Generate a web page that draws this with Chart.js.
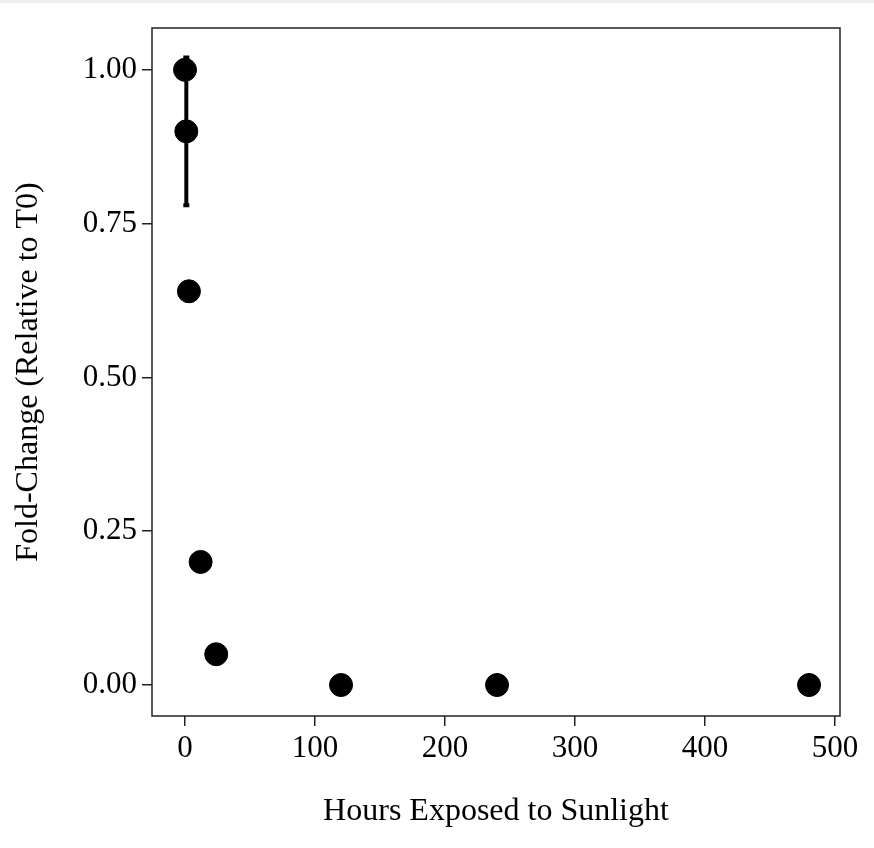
<!DOCTYPE html>
<html>
<head>
<meta charset="utf-8">
<script src="https://cdn.jsdelivr.net/npm/chart.js@4/dist/chart.umd.min.js"></script>
<style>
  html, body { margin: 0; padding: 0; background: #fff; }
  #strip { height: 3px; background: #efefef; }
  #wrap { width: 874px; height: 845px; }
</style>
</head>
<body>
<div id="strip"></div>
<div id="wrap"><canvas id="chart" width="874" height="845"></canvas></div>
<script>
// Sunlight exposure series
const hours = [0, 1, 3, 12, 24, 120, 240, 480];
const foldChange = [1.00, 0.90, 0.64, 0.20, 0.05, 0.00, 0.00, 0.00];
// error bar (only the 1 h point has a visible spread)
const errLow = [null, 0.78, null, null, null, null, null, null];
const errHigh = [null, 1.02, null, null, null, null, null, null];

const yTicks = [0, 0.25, 0.5, 0.75, 1.0];
const xTicks = [0, 100, 200, 300, 400, 500];

const points = hours.map((h, i) => ({x: h, y: foldChange[i]}));

const serif = "'Liberation Serif', 'Times New Roman', serif";

// error bars + frame around the panel
const errorBars = {
    id: 'errorBars',
    afterDatasetsDraw(chart){
        const {ctx, scales:{x, y}} = chart;
        ctx.save();
        ctx.strokeStyle = '#000';
        ctx.lineWidth = 4;
        hours.forEach((h, i) => {
            if(errLow[i] == null) return;
            const px = x.getPixelForValue(h);
            const lo = y.getPixelForValue(errLow[i]);
            const hi = y.getPixelForValue(errHigh[i]);
            ctx.beginPath();
            ctx.moveTo(px, lo); ctx.lineTo(px, hi);
            ctx.moveTo(px - 3, lo); ctx.lineTo(px + 3, lo);
            ctx.moveTo(px - 3, hi); ctx.lineTo(px + 3, hi);
            ctx.stroke();
        });
        ctx.restore();
    },
    beforeDatasetsDraw(chart){
        const {ctx, chartArea:a} = chart;
        ctx.save();
        ctx.strokeStyle = '#222';
        ctx.lineWidth = 1.5;
        ctx.strokeRect(a.left, a.top, a.right - a.left, a.bottom - a.top);
        ctx.restore();
    }
};

new Chart(document.getElementById('chart'), {
    type: 'scatter',
    data: {
        datasets: [{
            data: points,
            backgroundColor: '#000',
            borderColor: '#000',
            pointRadius: 11.5,
            pointHoverRadius: 11.5
        }]
    },
    options: {
        responsive: false,
        animation: false,
        layout: {padding: {left: 0, top: 25, right: 34, bottom: 0}},
        plugins: {legend: {display: false}, tooltip: {enabled: false}},
        scales: {
            x: {
                type: 'linear',
                min: -25.4,
                max: 503.8,
                afterBuildTicks: s => { s.ticks = xTicks.map(v => ({value: v})); },
                afterFit: s => { s.height = 132; },
                grid: {drawOnChartArea: false, drawTicks: true, tickLength: 10, color: '#222', lineWidth: 1.5},
                border: {display: false},
                ticks: {color: '#000', font: {family: serif, size: 31}, padding: 4, maxRotation: 0},
                title: {display: true, text: 'Hours Exposed to Sunlight', color: '#000',
                        font: {family: serif, size: 32}, padding: {bottom: 17}}
            },
            y: {
                min: -0.0504,
                max: 1.068,
                afterBuildTicks: s => { s.ticks = yTicks.map(v => ({value: v})); },
                afterFit: s => { s.width = 152; },
                grid: {drawOnChartArea: false, drawTicks: true, tickLength: 10, color: '#222', lineWidth: 1.5},
                border: {display: false},
                ticks: {color: '#000', font: {family: serif, size: 31}, padding: 5,
                        callback: v => v.toFixed(2)},
                title: {display: true, text: 'Fold-Change (Relative to T0)', color: '#000',
                        font: {family: serif, size: 32}, padding: {top: 9}}
            }
        }
    },
    plugins: [errorBars]
});
</script>
</body>
</html>
